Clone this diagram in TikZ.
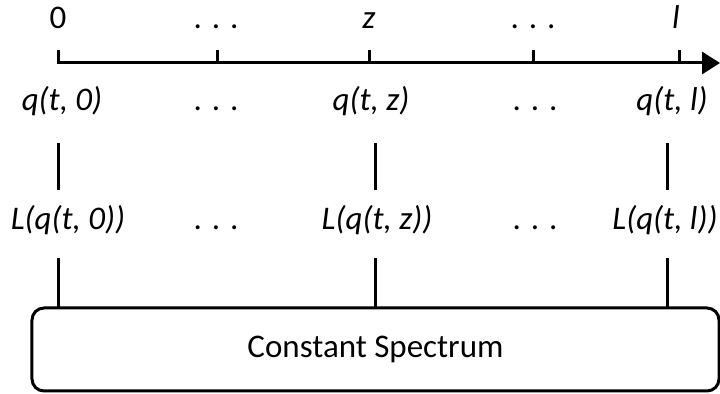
\documentclass[tikz,border=0pt]{standalone}
\usepackage{fontspec}
\setmainfont{Carlito}
\usetikzlibrary{arrows.meta}

\begin{document}
\begin{tikzpicture}[x=0.5bp,y=-0.5bp,
  txt/.style={anchor=base,inner sep=0pt,text height=12bp,text depth=3.5bp,font=\fontsize{16.5bp}{19bp}\selectfont},
  lbl/.style={txt,font=\fontsize{16.5bp}{19bp}\selectfont\itshape},
  link/.style={line width=1.5bp},
  spectrum/.style={draw,line width=1.5bp,rounded corners=6bp,minimum width=343.5bp,minimum height=41.5bp,inner sep=0pt,font=\fontsize{16.5bp}{19bp}\selectfont}]
\useasboundingbox (0,0) rectangle (720,394);
\coordinate (a0) at (58,63);
\coordinate (a1) at (720,63);
\draw[link,-{Triangle[length=9bp,width=11bp]}] (58,50) -- (a0) -- (a1);
\foreach \x in {217,369,533,679}
  \draw[link] (\x,63) -- (\x,50);
\node[txt] (p0) at (58,29) {0};
\node[txt] (p1) at (216,29) {. . .};
\node[lbl] (pz) at (369,29) {z};
\node[lbl] (pl) at (676,29) {l};
\node[txt] (p2) at (533,29) {. . .};
\node[lbl] (q0) at (62,111) {q(t, 0)};
\node[txt] (qd1) at (216,111) {. . .};
\node[lbl] (qz) at (371,111) {q(t, z)};
\node[txt] (qd2) at (535,111) {. . .};
\node[lbl] (ql) at (672,111) {q(t, l)};
\node[lbl] (L0) at (68,230) {L(q(t, 0))};
\node[txt] (Ld1) at (216,230) {. . .};
\node[lbl] (Lz) at (377,230) {L(q(t, z))};
\node[txt] (Ld2) at (535,230) {. . .};
\node[lbl] (Ll) at (665,230) {L(q(t, l))};
\node[spectrum] (spec) at (375.5,349.5) {Constant Spectrum};
\coordinate (c0) at (58,308);
\coordinate (cz) at (375,308);
\coordinate (cl) at (667,308);
\draw[link,shorten <=12.5bp,shorten >=8bp] (q0.south -| c0) -- (L0.north -| c0);
\draw[link,shorten <=12.5bp,shorten >=8bp] (qz.south -| cz) -- (Lz.north -| cz);
\draw[link,shorten <=12.5bp,shorten >=8bp] (ql.south -| cl) -- (Ll.north -| cl);
\draw[link,shorten <=10.5bp] (L0.south -| c0) -- (c0);
\draw[link,shorten <=10.5bp] (Lz.south -| cz) -- (cz);
\draw[link,shorten <=10.5bp] (Ll.south -| cl) -- (cl);
\end{tikzpicture}
\end{document}
